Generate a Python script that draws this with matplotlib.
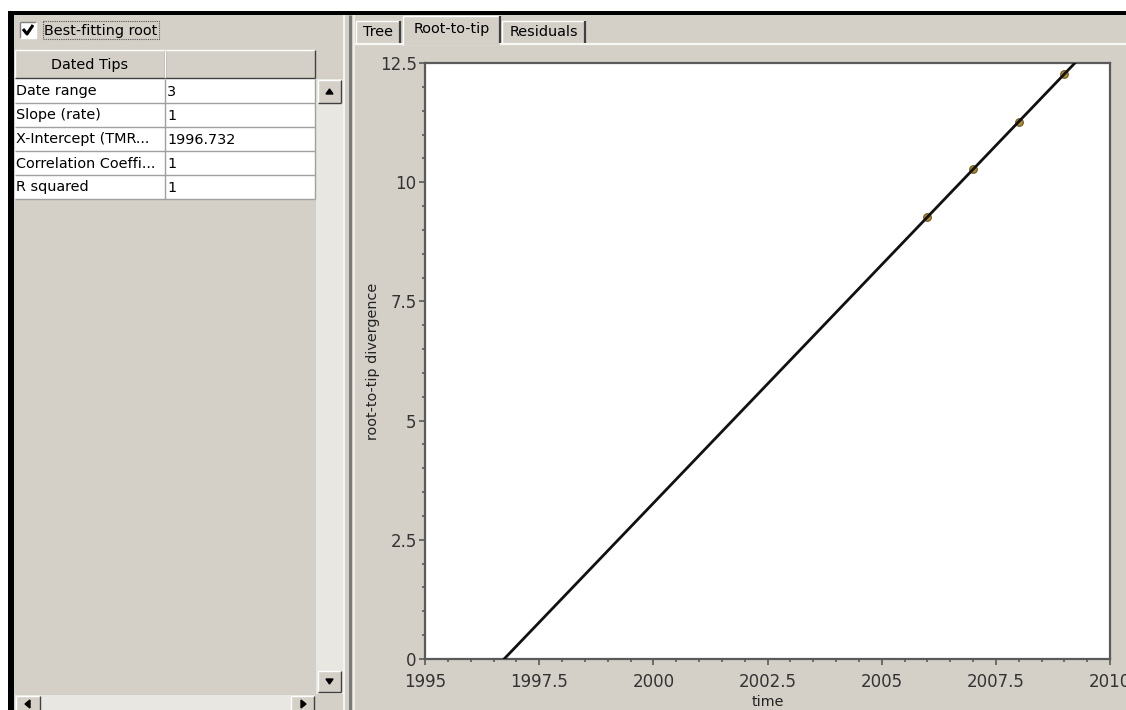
import numpy as np
import matplotlib
matplotlib.use("Agg")
import matplotlib.pyplot as plt
from matplotlib.patches import Rectangle
from matplotlib.ticker import MultipleLocator, FuncFormatter

# ---- data -------------------------------------------------------------
tip_dates = [2006.0, 2007.0, 2008.0, 2009.0]
root_to_tip = [9.268, 10.268, 11.268, 12.268]
slope = 1.0
x_intercept = 1996.732

stat_names = ["Date range", "Slope (rate)", "X-Intercept (TMR...",
              "Correlation Coeffi...", "R squared"]
stat_values = ["3", "1", "1996.732", "1", "1"]
tab_names = ["Tree", "Root-to-tip", "Residuals"]

x_ticks = [1995, 1997.5, 2000, 2002.5, 2005, 2007.5, 2010]
y_ticks = [0, 2.5, 5, 7.5, 10, 12.5]

# ---- figure & pixel-space canvas -------------------------------------
W, H = 1126, 710
fig = plt.figure(figsize=(W / 100, H / 100), dpi=100, facecolor="white")
ui = fig.add_axes([0, 0, 1, 1])
ui.set_xlim(0, W)
ui.set_ylim(H, 0)
ui.axis("off")

GRAY = "#d4d0c8"
LIGHT = "#e9e7e2"
UIFONT = 10.4


def rect(x0, y0, x1, y1, fc, ec="none", lw=0, z=1, **kw):
    ui.add_patch(Rectangle((x0, y0), x1 - x0, y1 - y0, facecolor=fc,
                           edgecolor=ec, linewidth=lw, zorder=z, **kw))


def line(xs, ys, c, lw=1, z=3, **kw):
    ui.plot(xs, ys, color=c, linewidth=lw, zorder=z,
            solid_capstyle="butt", **kw)


def bevel(x0, y0, x1, y1, raised=True, z=3):
    hi, lo = ("white", "#404040") if raised else ("#808080", "white")
    line([x0, x1], [y0, y0], hi, 1, z)
    line([x0, x0], [y0, y1], hi, 1, z)
    line([x0, x1], [y1, y1], lo, 1, z)
    line([x1, x1], [y0, y1], lo, 1, z)


# window frame
rect(8, 11, W, 710, "black", z=0)
rect(14, 15, W, 710, GRAY, z=0.5)

# ---- left panel -------------------------------------------------------
# checkbox
rect(20, 22, 36, 38, "white", z=2)
bevel(20, 22, 36, 38, raised=False)
line([23, 27, 33], [29, 34, 25], "black", 2.2, 4)
ui.text(44, 30.5, "Best-fitting root", fontsize=UIFONT, va="center",
        ha="left", color="black", zorder=5)
ui.add_patch(Rectangle((43, 21), 116, 18, facecolor="none", edgecolor="#555",
                       linewidth=0.8, linestyle=(0, (1, 1)), zorder=5))

# table header
rect(15, 50, 315, 78, GRAY, z=2)
bevel(15, 50, 165, 78, raised=True)
bevel(165, 50, 315, 78, raised=True)
ui.text(90, 64.5, "Dated Tips", fontsize=UIFONT, ha="center", va="center",
        color="black", zorder=5)

# table body
row_h = 24
top = 79
rect(15, top, 315, top + row_h * len(stat_names), "white", z=2)
for i, (name, val) in enumerate(zip(stat_names, stat_values)):
    y0 = top + i * row_h
    line([15, 315], [y0 + row_h, y0 + row_h], "#a0a0a0", 1, 3)
    ui.text(15.5, y0 + row_h / 2 + 0.5, name, fontsize=UIFONT, ha="left",
            va="center", color="black", zorder=5)
    ui.text(167, y0 + row_h / 2 + 0.5, val, fontsize=UIFONT, ha="left",
            va="center", color="black", zorder=5)
line([165, 165], [top, top + row_h * len(stat_names)], "#a0a0a0", 1, 3)
line([315, 315], [top, top + row_h * len(stat_names)], "#a0a0a0", 1, 3)

# vertical scrollbar
rect(316, 79, 343, 694, LIGHT, z=1)
rect(318, 80, 341, 103, GRAY, z=2)
bevel(318, 80, 341, 103, raised=True)
ui.add_patch(plt.Polygon([[326, 94], [333, 94], [329.5, 89]], color="black",
                         zorder=5))
rect(318, 671, 341, 692, GRAY, z=2)
bevel(318, 671, 341, 692, raised=True)
ui.add_patch(plt.Polygon([[326, 679], [333, 679], [329.5, 684]],
                         color="black", zorder=5))

# horizontal scrollbar
rect(15, 695, 315, 710, LIGHT, z=1)
rect(16, 696, 40, 712, GRAY, z=2)
bevel(16, 696, 40, 712, raised=True)
ui.add_patch(plt.Polygon([[30, 700], [30, 708], [25, 704]], color="black",
                         zorder=5))
rect(291, 696, 314, 712, GRAY, z=2)
bevel(291, 696, 314, 712, raised=True)
ui.add_patch(plt.Polygon([[301, 700], [301, 708], [306, 704]],
                         color="black", zorder=5))

# splitter between panels
line([344, 344], [15, 710], "#f4f3f0", 1.5, 3)
line([350, 350], [15, 710], "#7a7a7a", 2.2, 3)
line([354, 354], [15, 710], "#f4f3f0", 1.2, 3)

# ---- right panel: tabs -----------------------------------------------
line([355, W], [43.5, 43.5], "#f7f6f3", 1.6, 3)
tab_boxes = [(356, 400, 21), (403, 500, 16), (502, 585, 21)]
for (x0, x1, y0), name in zip(tab_boxes, tab_names):
    if name == "Root-to-tip":
        rect(x0, y0, x1, 45, GRAY, z=4)
        line([x0, x0], [y0, 45], "white", 1, 5)
        line([x0, x1], [y0, y0], "white", 1, 5)
        line([x1, x1], [y0, 43], "#404040", 1.6, 5)
        ty = 29
    else:
        line([x0, x0], [y0, 43], "white", 1, 3)
        line([x0, x1], [y0, y0], "white", 1, 3)
        line([x1, x1], [y0, 43], "#404040", 1.6, 3)
        ty = 32.5
    ui.text((x0 + x1) / 2, ty, name, fontsize=UIFONT, ha="center",
            va="center", color="black", zorder=6)

# ---- regression plot --------------------------------------------------
L, R, T, B = 425, 1110, 63, 659
ax = fig.add_axes([L / W, (H - B) / H, (R - L) / W, (B - T) / H])
ax.set_facecolor("white")
ax.set_xlim(x_ticks[0], x_ticks[-1])
ax.set_ylim(y_ticks[0], y_ticks[-1])

fit_x = np.array([x_intercept, x_ticks[-1]])
fit_y = slope * (fit_x - x_intercept)
ax.plot(fit_x, fit_y, color="#111111", linewidth=2.0, zorder=3)
ax.plot(tip_dates, root_to_tip, "o", markersize=5.5,
        markerfacecolor="#b08a30", markeredgecolor="#6b5522",
        markeredgewidth=0.8, zorder=2)

ax.xaxis.set_major_locator(MultipleLocator(2.5))
ax.xaxis.set_minor_locator(MultipleLocator(0.5))
ax.yaxis.set_major_locator(MultipleLocator(2.5))
ax.yaxis.set_minor_locator(MultipleLocator(0.5))
fmt = FuncFormatter(lambda v, p: f"{v:g}")
ax.xaxis.set_major_formatter(fmt)
ax.yaxis.set_major_formatter(fmt)

for s in ax.spines.values():
    s.set_color("#5a5a5a")
    s.set_linewidth(1.6)
ax.tick_params(which="major", direction="out", length=4, width=1.2,
               color="#5a5a5a", labelsize=12, labelcolor="#333333", pad=2)
ax.tick_params(axis="x", which="major", pad=6)
ax.tick_params(which="minor", direction="out", length=2.5, width=1.2,
               color="#5a5a5a")
ax.tick_params(top=False, right=False, which="both")

ax.set_xlabel("time", fontsize=UIFONT, color="#222222", labelpad=3)
ax.set_ylabel("root-to-tip divergence", fontsize=UIFONT, color="#222222",
              labelpad=0)

fig.savefig("out.png", dpi=100, facecolor=fig.get_facecolor())
